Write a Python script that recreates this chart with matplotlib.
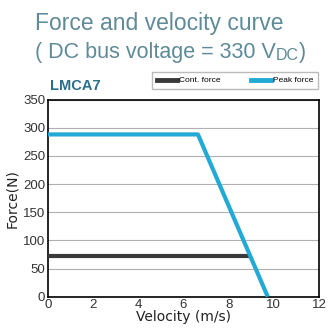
import matplotlib
matplotlib.use("Agg")
import matplotlib.pyplot as plt
from matplotlib.lines import Line2D

# Force vs velocity data
peak_v = [0, 6.64, 9.73]
peak_f = [288, 288, 0]
cont_v = [0, 8.89]
cont_f = [72, 72]

x_ticks = [0, 2, 4, 6, 8, 10, 12]
y_ticks = [0, 50, 100, 150, 200, 250, 300, 350]

TITLE_COLOR = "#5f8a98"
PEAK_COLOR = "#22a9d6"
CONT_COLOR = "#3a3a3a"
NARROW = ["DejaVu Sans Condensed", "Liberation Sans", "DejaVu Sans"]

fig = plt.figure(figsize=(3.31, 3.30), dpi=100)
ax = fig.add_axes([48 / 331, 1 - 296.7 / 330, 271 / 331, 197.2 / 330])

ax.plot(cont_v, cont_f, color=CONT_COLOR, lw=3.0, solid_capstyle="butt", zorder=3)
ax.plot(peak_v, peak_f, color=PEAK_COLOR, lw=3.0, solid_capstyle="butt", zorder=4)

ax.set_xlim(0, 12)
ax.set_ylim(0, 350)
ax.set_xticks(x_ticks)
ax.set_yticks(y_ticks)
ax.tick_params(length=0, labelsize=9.5, colors="#333333", pad=2)
for lab in ax.get_xticklabels() + ax.get_yticklabels():
    lab.set_family(NARROW)
ax.grid(axis="y", color="#b0b0b0", lw=0.8)
ax.set_axisbelow(True)
for s in ax.spines.values():
    s.set_color("black")
    s.set_linewidth(1.2)

ax.set_xlabel("Velocity (m/s)", fontsize=10, color="#222222", labelpad=-1)
ax.set_ylabel("Force(N)", fontsize=10, color="#222222", labelpad=3)

# Title, second line built in pieces so the subscript can be sized freely
fig.text(35 / 331, 1 - 30 / 330, "Force and velocity curve", fontsize=16.5,
         family=NARROW, color=TITLE_COLOR, ha="left", va="baseline")
main = fig.text(35 / 331, 1 - 58 / 330, "( DC bus voltage = 330 V",
                fontsize=15.5, family=NARROW, color=TITLE_COLOR, ha="left", va="baseline")
renderer = fig.canvas.get_renderer()
bb = main.get_window_extent(renderer=renderer)
sub = fig.text(bb.x1 / fig.bbox.width, 1 - 60 / 330, "DC", fontsize=11.5,
               family=NARROW, color=TITLE_COLOR, ha="left", va="baseline")
bb2 = sub.get_window_extent(renderer=renderer)
fig.text(bb2.x1 / fig.bbox.width, 1 - 58 / 330, ")", fontsize=15.5,
         family=NARROW, color=TITLE_COLOR, ha="left", va="baseline")

fig.text(50 / 331, 1 - 90 / 330, "LMCA7", fontsize=10.5, fontweight="bold",
         family=NARROW, color="#2a6f8a", ha="left", va="baseline")

handles = [
    Line2D([0], [0], color=CONT_COLOR, lw=3.5, label="Cont. force"),
    Line2D([0], [0], color=PEAK_COLOR, lw=3.5, label="Peak force"),
]
fig.legend(handles=handles, loc="lower right", bbox_to_anchor=(318 / 331, 1 - 89 / 330),
           ncol=2, prop={"family": NARROW, "size": 6}, frameon=True, fancybox=False,
           edgecolor="#aaaaaa", handlelength=2.4, handletextpad=0.3, columnspacing=3.6,
           borderpad=0.55, borderaxespad=0)

fig.savefig("out.png", dpi=100)
